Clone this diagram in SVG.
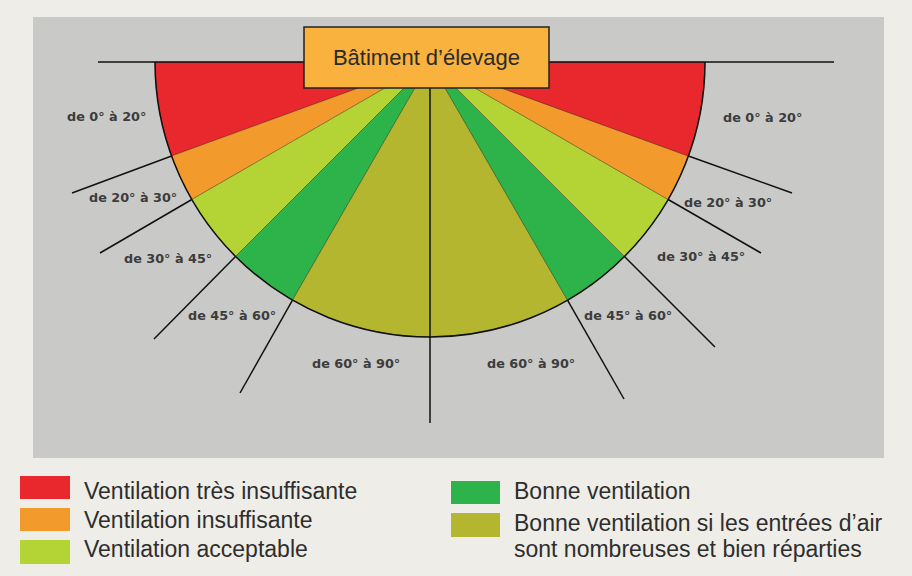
<svg xmlns="http://www.w3.org/2000/svg" width="912" height="576" viewBox="0 0 912 576">
<style>
.lbl{font-family:"DejaVu Sans",sans-serif;font-weight:bold;font-size:12.8px;fill:#3c3c3c}
.leg{font-family:"Liberation Sans",Arial,sans-serif;font-size:23px;fill:#2e2e2e}
.ln{stroke:#111;stroke-width:1.5;fill:none}
.sec{stroke:#000;stroke-opacity:0.35;stroke-width:0.8}
.red{fill:#e8282c}.org{fill:#f39a2d}.lgr{fill:#b4d334}.dgr{fill:#2eb34a}.olv{fill:#b5b62f}
</style>
<rect x="0" y="0" width="912" height="576" fill="#efede8"/>
<rect x="33" y="17" width="851" height="441" fill="#c9c9c7"/>
<g id="sectors">
<g id="sector-left-0-20"><path class="sec red" d="M430,62 L155,62 A275,275 0 0 0 171.58,156.06 Z"/></g>
<g id="sector-left-20-30"><path class="sec org" d="M430,62 L171.58,156.06 A275,275 0 0 0 191.84,199.5 Z"/></g>
<g id="sector-left-30-45"><path class="sec lgr" d="M430,62 L191.84,199.5 A275,275 0 0 0 235.55,256.45 Z"/></g>
<g id="sector-left-45-60"><path class="sec dgr" d="M430,62 L235.55,256.45 A275,275 0 0 0 292.5,300.16 Z"/></g>
<g id="sector-60-90"><path class="sec olv" d="M430,62 L292.5,300.16 A275,275 0 0 0 567.5,300.16 Z"/></g>
<g id="sector-right-45-60"><path class="sec dgr" d="M430,62 L567.5,300.16 A275,275 0 0 0 624.45,256.45 Z"/></g>
<g id="sector-right-30-45"><path class="sec lgr" d="M430,62 L624.45,256.45 A275,275 0 0 0 668.16,199.5 Z"/></g>
<g id="sector-right-20-30"><path class="sec org" d="M430,62 L668.16,199.5 A275,275 0 0 0 688.42,156.06 Z"/></g>
<g id="sector-right-0-20"><path class="sec red" d="M430,62 L688.42,156.06 A275,275 0 0 0 705,62 Z"/></g>
</g>
<g id="connectors">
<path class="ln" d="M155,62 A275,275 0 0 0 705,62"/>
<line class="ln" x1="98" y1="62" x2="834" y2="62"/>
<line class="ln" x1="430" y1="88" x2="430" y2="423"/>
<line class="ln" x1="171.58" y1="156.06" x2="72" y2="193"/>
<line class="ln" x1="191.84" y1="199.5" x2="100" y2="253"/>
<line class="ln" x1="235.55" y1="256.45" x2="154" y2="339"/>
<line class="ln" x1="292.5" y1="300.16" x2="240" y2="393"/>
<line class="ln" x1="688.42" y1="156.06" x2="792" y2="193"/>
<line class="ln" x1="668.16" y1="199.5" x2="761" y2="253"/>
<line class="ln" x1="624.45" y1="256.45" x2="715" y2="347"/>
<line class="ln" x1="567.5" y1="300.16" x2="624" y2="399"/>
</g>
<g id="building">
<rect x="304" y="27" width="245" height="61" fill="#f9b23d" stroke="#222" stroke-width="1.5"/>
<text x="426.5" y="65" text-anchor="middle" font-family="Liberation Sans, Arial, sans-serif" font-size="22" fill="#2a2a2a">Bâtiment d’élevage</text>
</g>
<g id="labels">
<text class="lbl" x="67" y="121">de 0° à 20°</text>
<text class="lbl" x="89" y="202">de 20° à 30°</text>
<text class="lbl" x="124" y="263">de 30° à 45°</text>
<text class="lbl" x="188" y="320">de 45° à 60°</text>
<text class="lbl" x="312" y="368">de 60° à 90°</text>
<text class="lbl" x="723" y="122">de 0° à 20°</text>
<text class="lbl" x="684" y="207">de 20° à 30°</text>
<text class="lbl" x="657" y="261">de 30° à 45°</text>
<text class="lbl" x="584" y="320">de 45° à 60°</text>
<text class="lbl" x="487" y="368">de 60° à 90°</text>
</g>
<g id="legend">
<g id="legend-red"><rect class="red" x="20" y="476" width="50" height="23"/><text class="leg" x="84" y="499">Ventilation très insuffisante</text></g>
<g id="legend-orange"><rect class="org" x="20" y="508" width="50" height="23"/><text class="leg" x="84" y="528">Ventilation insuffisante</text></g>
<g id="legend-lightgreen"><rect class="lgr" x="20" y="540" width="50" height="24"/><text class="leg" x="84" y="557">Ventilation acceptable</text></g>
<g id="legend-green"><rect class="dgr" x="451" y="481" width="49" height="23"/><text class="leg" x="514" y="499">Bonne ventilation</text></g>
<g id="legend-olive"><rect class="olv" x="451" y="513" width="49" height="24"/><text class="leg" x="514" y="531">Bonne ventilation si les entrées d’air</text><text class="leg" x="514" y="557">sont nombreuses et bien réparties</text></g>
</g>
</svg>
